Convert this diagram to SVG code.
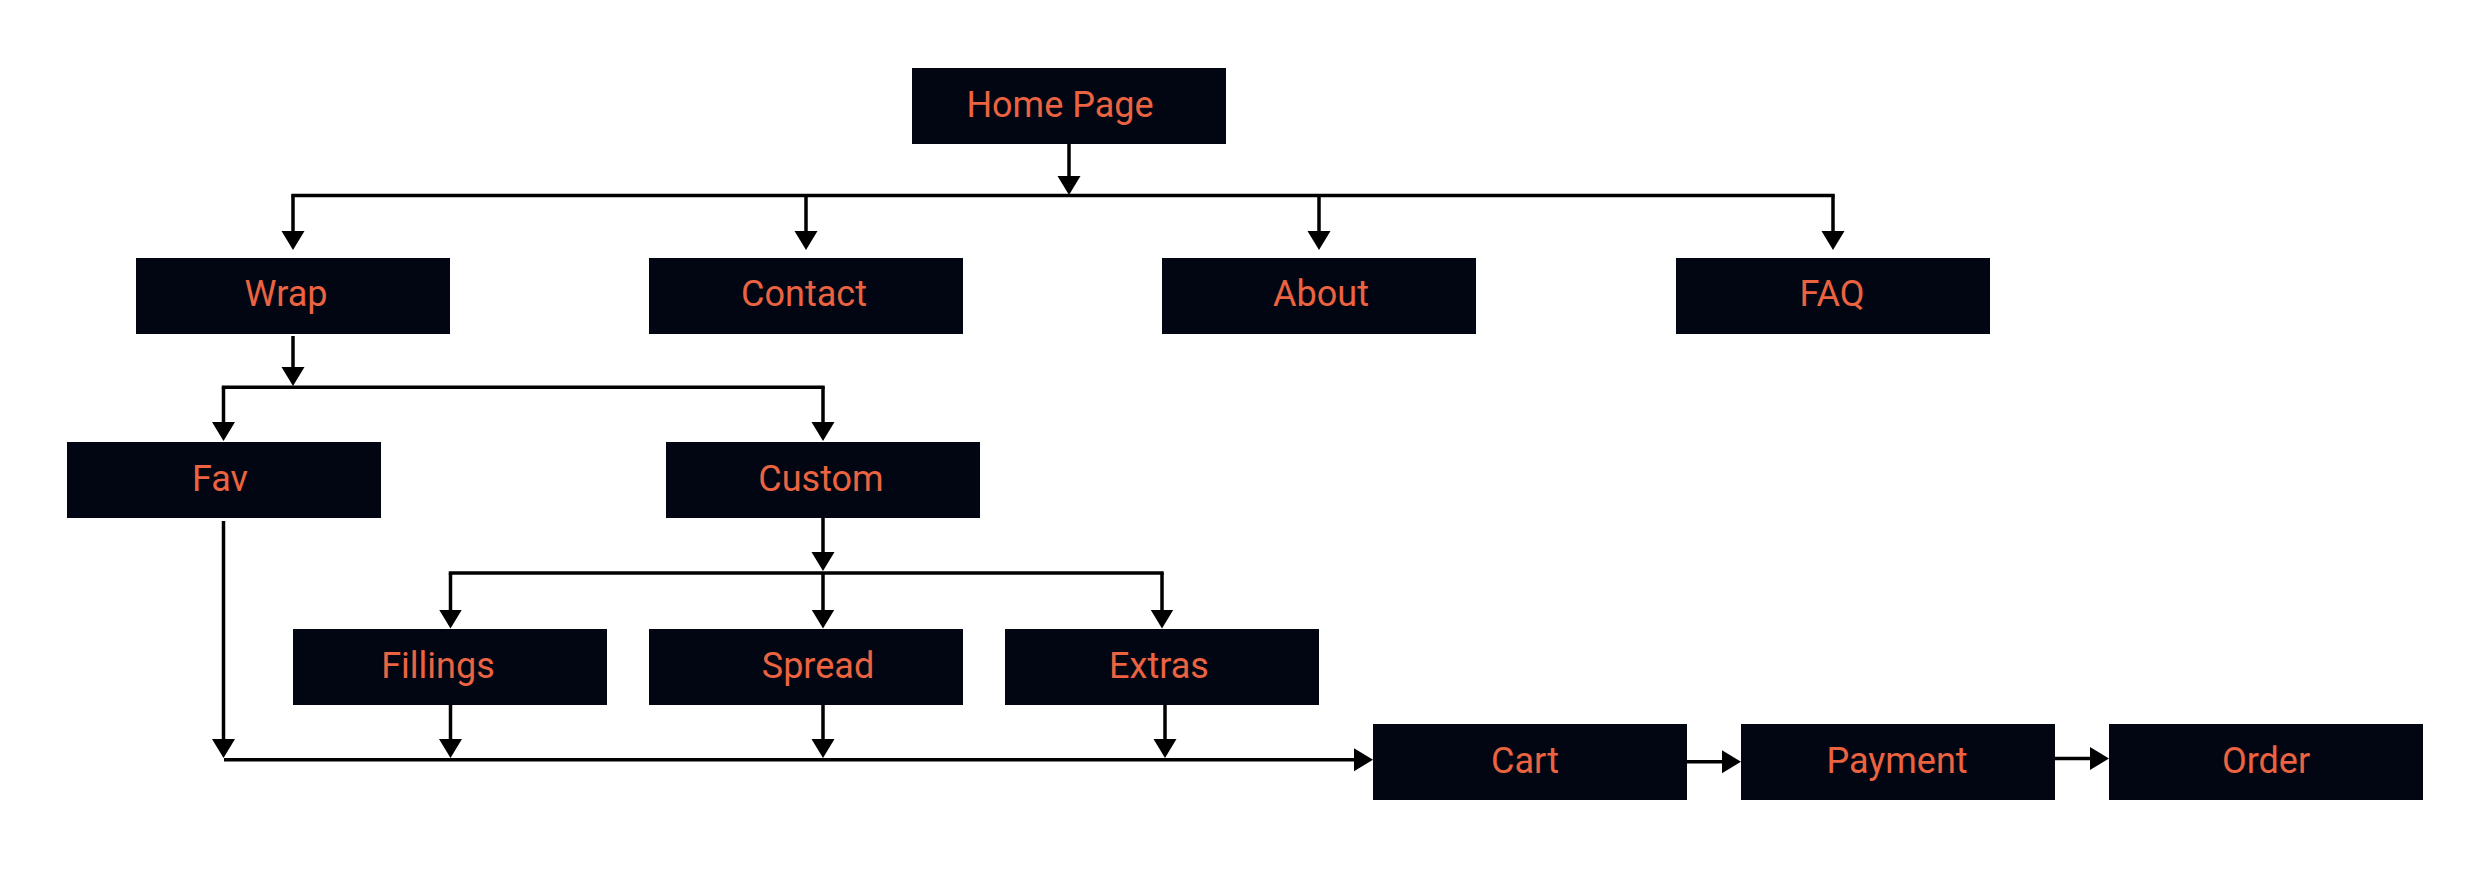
<svg xmlns="http://www.w3.org/2000/svg" width="2487" height="880" viewBox="0 0 2487 880">
<style>
.node rect{fill:#020612}
.node text{fill:#EB6341;font-family:Roboto,"Liberation Sans",sans-serif;font-size:36px;text-anchor:middle}
.conn path{fill:none;stroke:#000;stroke-width:3.5}
.conn .bus{stroke-linecap:square}
.conn .arr{marker-end:url(#ah)}
</style>
<defs>
<marker id="ah" markerUnits="userSpaceOnUse" markerWidth="20" markerHeight="24" viewBox="0 0 20 24" refX="15" refY="11.5" orient="auto"><path d="M0,0 L19,11.5 L0,23 Z" fill="#000"/></marker>
</defs>
<rect width="2487" height="880" fill="#fff"/>
<g id="connectors" class="conn">
<path class="arr" d="M1069,144 V191"/>
<path class="bus" d="M293,195.5 H1833"/>
<path class="arr" d="M293,195.5 V246"/>
<path class="arr" d="M806,195.5 V246"/>
<path class="arr" d="M1319,195.5 V246"/>
<path class="arr" d="M1833,195.5 V246"/>
<path class="arr" d="M293,336 V382"/>
<path class="bus" d="M223.5,387.3 H823"/>
<path class="arr" d="M223.5,387.3 V437"/>
<path class="arr" d="M823,387.3 V437"/>
<path class="arr" d="M823,518 V567"/>
<path class="bus" d="M450.5,573 H1162"/>
<path class="arr" d="M450.5,573 V624.5"/>
<path class="arr" d="M823,573 V624.5"/>
<path class="arr" d="M1162,573 V624.5"/>
<path class="arr" d="M223.5,521 V754"/>
<path class="arr" d="M450.5,705 V754"/>
<path class="arr" d="M823,705 V754"/>
<path class="arr" d="M1165,705 V754"/>
<path class="arr" d="M224,759.7 H1369"/>
<path class="arr" d="M1687,761.7 H1737"/>
<path class="arr" d="M2055,758.5 H2105"/>
</g>
<g id="home" class="node"><rect x="912" y="68" width="314" height="76"/><text x="1060" y="117">Home Page</text></g>
<g id="wrap" class="node"><rect x="136" y="258" width="314" height="76"/><text x="286" y="305.5">Wrap</text></g>
<g id="contact" class="node"><rect x="649" y="258" width="314" height="76"/><text x="804" y="306">Contact</text></g>
<g id="about" class="node"><rect x="1162" y="258" width="314" height="76"/><text x="1321" y="306">About</text></g>
<g id="faq" class="node"><rect x="1676" y="258" width="314" height="76"/><text x="1832" y="306">FAQ</text></g>
<g id="fav" class="node"><rect x="67" y="442" width="314" height="76"/><text x="220" y="491">Fav</text></g>
<g id="custom" class="node"><rect x="666" y="442" width="314" height="76"/><text x="821" y="491">Custom</text></g>
<g id="fillings" class="node"><rect x="293" y="629" width="314" height="76"/><text x="438" y="677.5">Fillings</text></g>
<g id="spread" class="node"><rect x="649" y="629" width="314" height="76"/><text x="818" y="677.5">Spread</text></g>
<g id="extras" class="node"><rect x="1005" y="629" width="314" height="76"/><text x="1159" y="677.5">Extras</text></g>
<g id="cart" class="node"><rect x="1373" y="724" width="314" height="76"/><text x="1525" y="772.5">Cart</text></g>
<g id="payment" class="node"><rect x="1741" y="724" width="314" height="76"/><text x="1897" y="772.5">Payment</text></g>
<g id="order" class="node"><rect x="2109" y="724" width="314" height="76"/><text x="2266" y="773">Order</text></g>
</svg>
